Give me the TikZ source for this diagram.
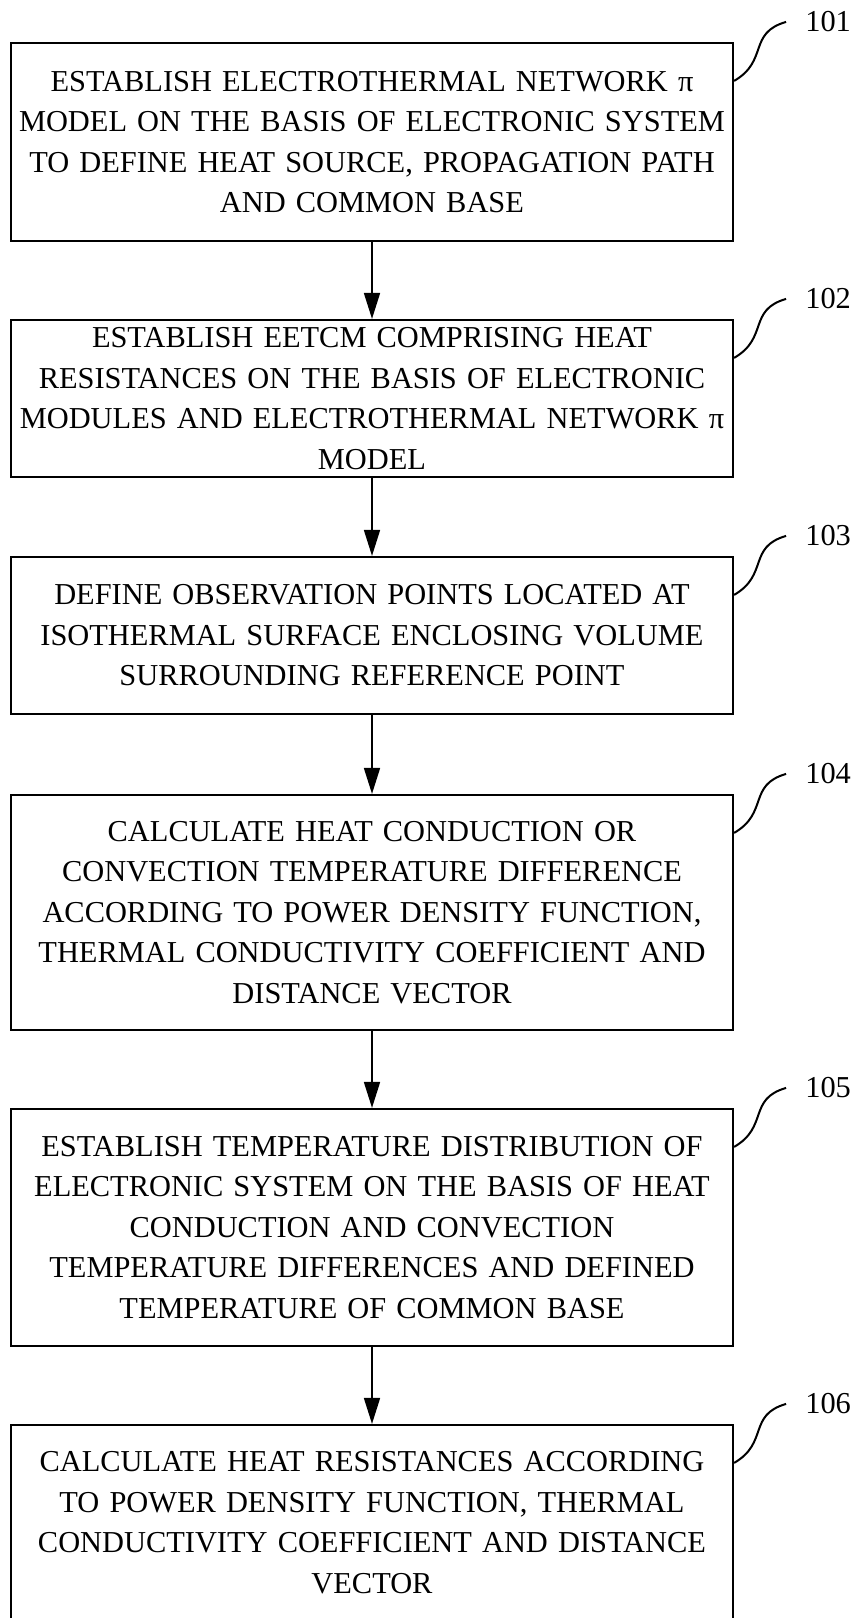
\documentclass[tikz,border=0pt]{standalone}
\usepackage{fontspec}
\setmainfont{Liberation Serif}
\usetikzlibrary{arrows.meta}

\begin{document}
\begin{tikzpicture}[x=1pt,y=1pt]
    \tikzstyle{stepbox}=[draw=black, line width=2.2pt, rectangle, text width=712pt, inner xsep=5pt, inner ysep=0pt, align=center, font=\fontsize{30.4}{40.5}\selectfont]
    \tikzstyle{tag}=[anchor=west, inner xsep=19pt, inner ysep=0pt, font=\fontsize{30.4}{36}\selectfont]
    \tikzstyle{flow}=[draw=black, line width=1.7pt, -{Triangle[length=26pt,width=16pt]}]
    \tikzstyle{hook}=[draw=black, line width=2pt]
    \useasboundingbox (0,0) rectangle (855,-1618);
    \clip (0,0) rectangle (855,-1618);
    \node [stepbox, minimum height=198pt] (s1) at (372,-142) {ESTABLISH ELECTROTHERMAL NETWORK π\\MODEL ON THE BASIS OF ELECTRONIC SYSTEM\\TO DEFINE HEAT SOURCE, PROPAGATION PATH\\AND COMMON BASE};
    \node [stepbox, minimum height=157pt] (s2) at (372,-398.5) {ESTABLISH EETCM COMPRISING HEAT\\RESISTANCES ON THE BASIS OF ELECTRONIC\\MODULES AND ELECTROTHERMAL NETWORK π\\MODEL};
    \node [stepbox, minimum height=157pt] (s3) at (372,-635.5) {DEFINE OBSERVATION POINTS LOCATED AT\\ISOTHERMAL SURFACE ENCLOSING VOLUME\\SURROUNDING REFERENCE POINT};
    \node [stepbox, minimum height=235pt] (s4) at (372,-912.5) {CALCULATE HEAT CONDUCTION OR\\CONVECTION TEMPERATURE DIFFERENCE\\ACCORDING TO POWER DENSITY FUNCTION,\\THERMAL CONDUCTIVITY COEFFICIENT AND\\DISTANCE VECTOR};
    \node [stepbox, minimum height=237pt] (s5) at (372,-1227.5) {ESTABLISH TEMPERATURE DISTRIBUTION OF\\ELECTRONIC SYSTEM ON THE BASIS OF HEAT\\CONDUCTION AND CONVECTION\\TEMPERATURE DIFFERENCES AND DEFINED\\TEMPERATURE OF COMMON BASE};
    \node [stepbox, minimum height=195pt] (s6) at (372,-1522.5) {CALCULATE HEAT RESISTANCES ACCORDING\\TO POWER DENSITY FUNCTION, THERMAL\\CONDUCTIVITY COEFFICIENT AND DISTANCE\\VECTOR};
    \draw [flow] (s1) -- (s2);
    \draw [flow] (s2) -- (s3);
    \draw [flow] (s3) -- (s4);
    \draw [flow] (s4) -- (s5);
    \draw [flow] (s5) -- (s6);
    \foreach \i in {1,...,6} {
        \node [tag] (l\i) at ([xshift=52pt,yshift=20pt]s\i.north east) {10\i};
        \draw [hook] ([yshift=-39pt]s\i.north east) to[out=30,in=196,looseness=1.3] (l\i.west);
    }
\end{tikzpicture}
\end{document}
